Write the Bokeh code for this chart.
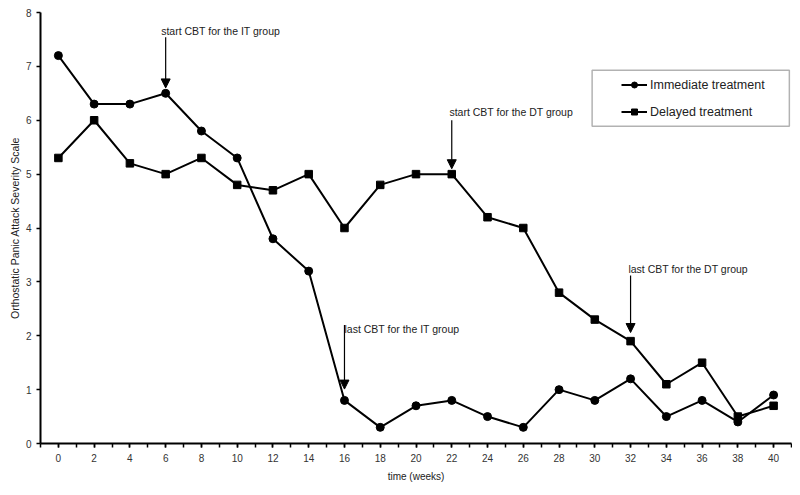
from bokeh.plotting import figure
from bokeh.models import (Range1d, FixedTicker, Legend, LegendItem, Arrow,
                          NormalHead, Label, BoxAnnotation)
from bokeh.embed import file_html
from bokeh.resources import INLINE

# ---- data ----
weeks = [0, 2, 4, 6, 8, 10, 12, 14, 16, 18, 20, 22, 24, 26, 28, 30, 32, 34, 36, 38, 40]
immediate = [7.2, 6.3, 6.3, 6.5, 5.8, 5.3, 3.8, 3.2, 0.8, 0.3, 0.7, 0.8, 0.5, 0.3,
             1.0, 0.8, 1.2, 0.5, 0.8, 0.4, 0.9]
delayed = [5.3, 6.0, 5.2, 5.0, 5.3, 4.8, 4.7, 5.0, 4.0, 4.8, 5.0, 5.0, 4.2, 4.0,
           2.8, 2.3, 1.9, 1.1, 1.5, 0.5, 0.7]
series_names = ["Immediate treatment", "Delayed treatment"]
x_tick_labels = list(range(0, 41, 2))
y_tick_labels = list(range(0, 9))

# annotations: (text, text_x, text_y, arrow_x, arrow_y_start, arrow_y_end)
annotations = [
    ("start CBT for the IT group", 5.75, 7.65, 6, 7.54, 6.60),
    ("start CBT for the DT group", 21.87, 6.16, 22, 6.0, 5.10),
    ("last CBT for the IT group", 16.0, 2.12, 16, 2.2, 1.01),
    ("last CBT for the DT group", 31.88, 3.23, 32, 3.12, 2.06),
]

FONT = "Liberation Sans"

p = figure(width=792, height=487, x_range=Range1d(-1, 41), y_range=Range1d(0, 8),
           output_backend="svg", toolbar_location=None,
           min_border_left=40, min_border_right=1, min_border_top=12, min_border_bottom=44)
p.outline_line_color = None
p.xgrid.visible = False
p.ygrid.visible = False
p.background_fill_color = "white"
p.border_fill_color = "white"

# axes
xa = p.xaxis[0]
xa.ticker = FixedTicker(ticks=x_tick_labels, minor_ticks=list(range(-1, 42)))
xa.axis_label = "time (weeks)"
ya = p.yaxis[0]
ya.ticker = FixedTicker(ticks=y_tick_labels, minor_ticks=[])
ya.axis_label = "Orthostatic Panic Attack Severity Scale"
for ax in (xa, ya):
    ax.axis_line_color = "black"
    ax.axis_line_width = 2
    ax.major_tick_line_color = "black"
    ax.major_tick_line_width = 1.5
    ax.minor_tick_line_color = "black"
    ax.minor_tick_line_width = 1.5
    ax.major_tick_in = 0
    ax.minor_tick_in = 0
    ax.major_tick_out = 4
    ax.minor_tick_out = 4
    ax.major_label_text_font = FONT
    ax.major_label_text_font_size = "10px"
    ax.major_label_text_color = "#333333"
    ax.axis_label_text_font = FONT
    ax.axis_label_text_font_style = "normal"
    ax.axis_label_text_color = "#222222"
xa.major_label_standoff = 6
xa.axis_label_standoff = 6
xa.axis_label_text_font_size = "10px"
ya.major_label_standoff = 5
ya.axis_label_standoff = 2
ya.axis_label_text_font_size = "10.5px"

# series
l1 = p.line(weeks, immediate, line_color="black", line_width=2)
s1 = p.scatter(weeks, immediate, marker="circle", size=8, fill_color="black", line_color="black")
l2 = p.line(weeks, delayed, line_color="black", line_width=2)
s2 = p.scatter(weeks, delayed, marker="square", size=7.5, fill_color="black", line_color="black")

# annotations
for text, tx, ty, ax_, ys, ye in annotations:
    p.add_layout(Arrow(end=NormalHead(size=9, fill_color="black", line_color="black"),
                       x_start=ax_, y_start=ys, x_end=ax_, y_end=ye,
                       line_color="black", line_width=1.2))
    p.add_layout(Label(x=tx, y=ty, text=text, text_align="left", text_baseline="middle",
                       text_font=FONT, text_font_size="10.5px", text_color="#222222"))

# legend box and legend
p.add_layout(BoxAnnotation(left=29.85, right=40.88, top=6.93, bottom=5.89,
                           fill_alpha=0, fill_color=None, line_color="black", line_width=1.5))
legend = Legend(items=[LegendItem(label=series_names[0], renderers=[l1, s1]),
                       LegendItem(label=series_names[1], renderers=[l2, s2])],
                location=(581, 324), padding=0, margin=0, spacing=12,
                glyph_width=26, glyph_height=15, label_height=15, label_standoff=3,
                label_text_font=FONT, label_text_font_size="12.5px", label_text_color="#222222",
                border_line_alpha=0, background_fill_alpha=0)
p.add_layout(legend)

open("out.html", "w").write(file_html(p, INLINE))
